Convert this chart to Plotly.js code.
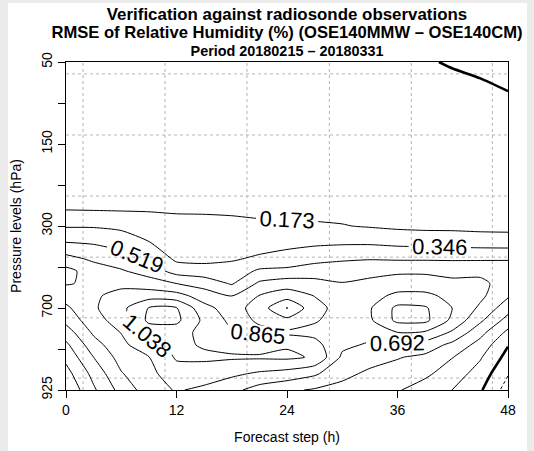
<!DOCTYPE html>
<html><head><meta charset="utf-8">
<script src="https://cdn.plot.ly/plotly-3.0.1.min.js"></script>
<style>
html,body{margin:0;padding:0;background:#ebebeb;}
#chart{position:absolute;left:8px;top:3px;width:519px;height:448px;background:#fff;}
</style></head><body><div id="chart"></div>
<script>
// Forecast steps (h) and level positions (0 = 925 hPa at bottom, 8 = 50 hPa at top)
const forecastSteps = [0,3,6,9,12,15,18,21,24,27,30,33,36,39,42,45,48];
const levelPos = [0,0.4,0.8,1.1,1.4,1.7,2.0,2.3,2.6,2.9,3.2,3.6,4.0,4.4,5.2,6.2,7.2,8.0];
const levelTickPos = [0,1,2,3,4,5,6,7,8];
const levelTickText = ['925','','700','','300','','150','','50'];
const stepTicks = [0,12,24,36,48];

// RMSE difference values per forecast step (bottom -> top)
const rmse_f00 = [0.02,0.11,0.22,0.31,0.43,0.57,0.66,0.76,0.88,0.92,0.75,0.52,0.33,0.17,0.12,0.11,0.10,0.09];
const rmse_f03 = [0.32,0.40,0.52,0.62,0.72,0.80,0.84,0.84,0.83,0.78,0.66,0.50,0.33,0.165,0.12,0.11,0.10,0.09];
const rmse_f06 = [0.58,0.68,0.76,0.82,0.87,0.94,0.99,0.92,0.82,0.71,0.60,0.44,0.31,0.16,0.12,0.11,0.10,0.09];
const rmse_f09 = [0.78,0.82,0.86,0.98,1.10,1.25,1.22,0.96,0.77,0.62,0.51,0.35,0.29,0.155,0.12,0.11,0.10,0.09];
const rmse_f12 = [0.88,0.96,1.06,1.08,1.12,1.25,1.22,0.93,0.69,0.45,0.31,0.27,0.24,0.15,0.12,0.11,0.10,0.09];
const rmse_f15 = [0.83,0.95,1.07,1.02,0.98,1.00,0.92,0.78,0.62,0.42,0.30,0.27,0.23,0.15,0.12,0.11,0.10,0.08];
const rmse_f18 = [0.74,0.90,1.06,0.98,0.88,0.82,0.78,0.69,0.50,0.41,0.33,0.26,0.22,0.145,0.12,0.11,0.09,0.08];
const rmse_f21 = [0.62,0.84,1.06,0.96,0.84,0.88,0.95,0.87,0.72,0.55,0.37,0.28,0.20,0.14,0.12,0.10,0.09,0.07];
const rmse_f24 = [0.55,0.80,1.07,1.02,0.83,0.99,1.22,0.96,0.78,0.56,0.42,0.29,0.20,0.13,0.12,0.10,0.08,0.06];
const rmse_f27 = [0.50,0.72,1.02,0.92,0.82,0.88,0.92,0.86,0.75,0.60,0.47,0.31,0.19,0.13,0.11,0.09,0.07,0.05];
const rmse_f30 = [0.47,0.56,0.66,0.73,0.77,0.80,0.80,0.77,0.70,0.60,0.50,0.32,0.18,0.125,0.11,0.09,0.06,0.04];
const rmse_f33 = [0.42,0.49,0.58,0.67,0.76,0.84,0.85,0.81,0.74,0.63,0.51,0.32,0.16,0.12,0.11,0.08,0.06,0.03];
const rmse_f36 = [0.36,0.45,0.53,0.68,0.86,1.08,1.08,0.90,0.78,0.66,0.50,0.30,0.14,0.115,0.10,0.08,0.05,0.02];
const rmse_f39 = [0.27,0.38,0.48,0.62,0.84,1.08,1.06,0.90,0.78,0.66,0.50,0.29,0.13,0.11,0.10,0.07,0.05,0.01];
const rmse_f42 = [0.17,0.26,0.35,0.47,0.66,0.82,0.86,0.82,0.74,0.63,0.50,0.28,0.13,0.11,0.10,0.07,0.04,-0.01];
const rmse_f45 = [0.02,0.10,0.19,0.28,0.40,0.55,0.66,0.73,0.74,0.64,0.50,0.27,0.12,0.11,0.09,0.06,0.02,-0.02];
const rmse_f48 = [-0.25,-0.16,-0.06,0.01,0.13,0.28,0.42,0.54,0.60,0.58,0.51,0.26,0.12,0.11,0.09,0.05,0.01,-0.08];

const columns = [rmse_f00,rmse_f03,rmse_f06,rmse_f09,rmse_f12,rmse_f15,rmse_f18,rmse_f21,rmse_f24,
                 rmse_f27,rmse_f30,rmse_f33,rmse_f36,rmse_f39,rmse_f42,rmse_f45,rmse_f48];
const z = levelPos.map((_, i) => columns.map(c => c[i]));

const FONT = 'Liberation Sans, Arial, Helvetica, sans-serif';
const base = {type:'contour', x: forecastSteps, y: levelPos, z: z, autocontour:false,
  showscale:false, hoverinfo:'skip'};

const traces = [
  Object.assign({}, base, {
    contours:{start:0.173, end:1.3, size:0.173, coloring:'none', showlabels:true,
      labelformat:'.3f', labelfont:{size:22, color:'#000', family:FONT}},
    line:{color:'#000', width:1, smoothing:0.6}
  }),
  Object.assign({}, base, {
    contours:{start:0, end:0, size:0.173, coloring:'none', showlabels:true,
      labelformat:'.0f', labelfont:{size:22, color:'#000', family:FONT}},
    line:{color:'#000', width:2.6, smoothing:0.6}
  }),
  Object.assign({}, base, {
    contours:{start:-0.692, end:-0.173, size:0.173, coloring:'none', showlabels:false},
    line:{color:'#000', width:1, dash:'dot', smoothing:0.6}
  })
];

const gridX = [1.85,10.75,19.65,28.6,37.5,46.3];
const gridY = [0.29,1.76,3.24,4.73,6.22,7.71];
const gridStyle = {color:'#b4b4b4', width:1, dash:'dot'};
const shapes = [];
gridX.forEach(v => shapes.push({type:'line', xref:'x', yref:'y', x0:v, x1:v, y0:0, y1:8, layer:'below', line:gridStyle}));
gridY.forEach(v => shapes.push({type:'line', xref:'x', yref:'y', x0:0, x1:48, y0:v, y1:v, layer:'below', line:gridStyle}));

const axisCommon = {ticks:'outside', ticklen:7, tickwidth:1, tickcolor:'#000', showline:true, mirror:true,
  linecolor:'#000', linewidth:1, showgrid:false, zeroline:false, tickfont:{size:14, family:FONT, color:'#000'}};

const titleText =
  '<b><span style="font-size:16.9px">Verification against radiosonde observations</span></b><br>' +
  '<b><span style="font-size:16.6px">RMSE of Relative Humidity (%) (OSE140MMW \u2013 OSE140CM)</span></b><br>' +
  '<b><span style="font-size:14.4px">Period 20180215 \u2013 20180331</span></b>';

const layout = {
  width:519, height:448,
  margin:{l:58, r:19, t:59, b:61},
  paper_bgcolor:'#fff', plot_bgcolor:'#fff',
  font:{family:FONT, size:14, color:'#000'},
  showlegend:false,
  title:{text:titleText,
    font:{size:14, family:FONT, color:'#000'}, x:0.5, xref:'paper', xanchor:'center', y:0.963, yref:'container', yanchor:'top'},
  xaxis:Object.assign({}, axisCommon, {range:[0,48], tickvals:stepTicks, ticktext:stepTicks.map(String),
    title:{text:'Forecast step (h)', font:{size:14, family:FONT}, standoff:15}}),
  yaxis:Object.assign({}, axisCommon, {range:[0,8], tickvals:levelTickPos, ticktext:levelTickText, tickangle:-90,
    title:{text:'Pressure levels (hPa)', font:{size:14, family:FONT}, standoff:15}}),
  shapes:shapes
};

Plotly.newPlot('chart', traces, layout, {displayModeBar:false, staticPlot:true});
</script></body></html>
